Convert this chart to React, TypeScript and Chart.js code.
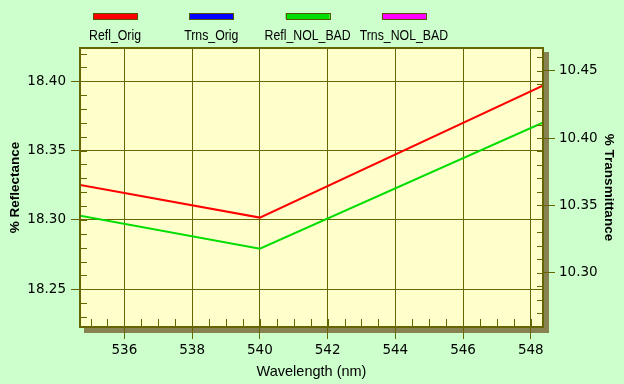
import { useEffect, useRef } from 'react';
import { Chart, registerables } from 'chart.js';

Chart.register(...registerables);

// ---- data ----
const wavelengths = [530, 540, 550];
const reflOrig = [18.346, 18.3017, 18.4156];
const trnsOrig: number[] = [];
const reflNolBad = [18.3242, 18.2793, 18.3881];
const trnsNolBad: number[] = [];
const seriesLabels = ['Refl_Orig', 'Trns_Orig', 'Refl_NOL_BAD', 'Trns_NOL_BAD'];
const seriesColors = ['#ff0000', '#0000ff', '#00dd00', '#ff00ff'];

const xTickValues = [536, 538, 540, 542, 544, 546, 548];
const leftTickValues = [18.25, 18.3, 18.35, 18.4];
const rightTickValues = [10.3, 10.35, 10.4, 10.45];
const xRange = [534.66, 548.39];
const leftRange = [18.2221, 18.4247];
const rightRange = [10.2589, 10.4676];
const xMinorStep = 0.5;
const leftMinorStep = 0.01;
const rightMinorStep = 0.01;

// ---- style ----
const PAGE_BG = '#ccffcc';
const PLOT_BG = '#ffffcc';
const SHADOW = '#888250';
const OLIVE = '#666600';
const TICK_FONT = { family: 'DejaVu Sans', size: 13.5 };
const TITLE_FONT = { family: 'Liberation Sans', size: 13.5, weight: 'bold' as const };

const toPts = (ys: number[]) => ys.map((y, i) => ({ x: wavelengths[i], y }));

function minorValues(min: number, max: number, step: number) {
  const out: number[] = [];
  const start = Math.ceil(min / step - 1e-9);
  for (let k = start; k * step <= max + 1e-9; k++) out.push(k * step);
  return out;
}

const decor = {
  id: 'decor',
  beforeDraw(chart: any) {
    const { ctx, chartArea: a, width, height } = chart;
    ctx.save();
    ctx.fillStyle = PAGE_BG;
    ctx.fillRect(0, 0, width, height);
    ctx.fillStyle = SHADOW;
    ctx.fillRect(a.left + 5, a.top + 5, a.right - a.left, a.bottom - a.top);
    ctx.fillStyle = PLOT_BG;
    ctx.fillRect(a.left, a.top, a.right - a.left, a.bottom - a.top);
    ctx.restore();
  },
  afterDraw(chart: any) {
    const { ctx, chartArea: a, scales } = chart;
    ctx.save();
    ctx.strokeStyle = OLIVE;
    ctx.lineWidth = 1;
    ctx.beginPath();
    for (const v of minorValues(xRange[0], xRange[1], xMinorStep)) {
      const px = Math.round(scales.x.getPixelForValue(v)) + 0.5;
      ctx.moveTo(px, a.bottom);
      ctx.lineTo(px, a.bottom - 9);
    }
    for (const v of minorValues(leftRange[0], leftRange[1], leftMinorStep)) {
      const py = Math.round(scales.y.getPixelForValue(v)) + 0.5;
      ctx.moveTo(a.left, py);
      ctx.lineTo(a.left + 8, py);
    }
    for (const v of minorValues(rightRange[0], rightRange[1], rightMinorStep)) {
      const py = Math.round(scales.y1.getPixelForValue(v)) + 0.5;
      ctx.moveTo(a.right, py);
      ctx.lineTo(a.right - 7, py);
    }
    ctx.stroke();
    ctx.lineWidth = 2;
    ctx.strokeRect(a.left + 1, a.top + 1, a.right - a.left - 2, a.bottom - a.top - 2);

    // legend: swatch above a narrow label
    ctx.lineWidth = 1;
    const datasets = chart.data.datasets;
    datasets.forEach((ds: any, i: number) => {
      const cx = 115 + i * 96.3;
      ctx.fillStyle = ds.borderColor;
      ctx.fillRect(cx - 22, 13, 44, 6);
      ctx.strokeStyle = '#555500';
      ctx.strokeRect(Math.round(cx - 22) + 0.5, 13.5, 44, 6);
      ctx.save();
      ctx.translate(cx, 40);
      ctx.scale(0.82, 1);
      ctx.font = '15px "Liberation Sans", sans-serif';
      ctx.textAlign = 'center';
      ctx.textBaseline = 'alphabetic';
      ctx.fillStyle = '#000000';
      ctx.fillText(ds.label, 0, 0);
      ctx.restore();
    });
    ctx.restore();
  },
};

export default function App() {
  const ref = useRef<HTMLCanvasElement>(null);
  useEffect(() => {
    document.body.style.margin = '0';
    const series = [reflOrig, trnsOrig, reflNolBad, trnsNolBad];
    const chart = new Chart(ref.current!, {
      type: 'line',
      data: {
        datasets: series.map((s, i) => ({
          label: seriesLabels[i],
          data: toPts(s),
          borderColor: seriesColors[i],
          backgroundColor: seriesColors[i],
          borderWidth: 2,
          pointRadius: 0,
          tension: 0,
          clip: 0,
          yAxisID: i % 2 === 0 ? 'y' : 'y1',
        })),
      },
      options: {
        animation: false,
        responsive: false,
        devicePixelRatio: 1,
        layout: { padding: { top: 47, left: 0, right: 0, bottom: 0 } },
        plugins: { legend: { display: false }, tooltip: { enabled: false } },
        scales: {
          x: {
            type: 'linear',
            position: 'bottom',
            min: xRange[0],
            max: xRange[1],
            afterBuildTicks: (s: any) => { s.ticks = xTickValues.map((value) => ({ value })); },
            afterFit: (s: any) => { s.height = 56; },
            ticks: { font: TICK_FONT, color: '#000', padding: 3, maxRotation: 0, callback: (v: any) => String(v) },
            grid: { color: OLIVE, tickLength: 11, lineWidth: 1 },
            border: { display: false },
            title: { display: true, text: 'Wavelength (nm)', color: '#000', font: { family: 'Liberation Sans', size: 14.5 }, padding: { top: 0, bottom: 3 } },
          },
          y: {
            type: 'linear',
            position: 'left',
            min: leftRange[0],
            max: leftRange[1],
            afterBuildTicks: (s: any) => { s.ticks = leftTickValues.map((value) => ({ value })); },
            afterFit: (s: any) => { s.width = 79; },
            ticks: { font: TICK_FONT, color: '#000', padding: 5, callback: (v: any) => Number(v).toFixed(2) },
            grid: { color: OLIVE, tickLength: 8, lineWidth: 1 },
            border: { display: false },
            title: { display: true, text: '% Reflectance', color: '#000', font: TITLE_FONT, padding: { top: 7, bottom: 0 } },
          },
          y1: {
            type: 'linear',
            position: 'right',
            min: rightRange[0],
            max: rightRange[1],
            afterBuildTicks: (s: any) => { s.ticks = rightTickValues.map((value) => ({ value })); },
            afterFit: (s: any) => { s.width = 80; },
            ticks: { font: TICK_FONT, color: '#000', padding: 4, callback: (v: any) => Number(v).toFixed(2) },
            grid: { color: OLIVE, tickLength: 11, lineWidth: 1, drawOnChartArea: false },
            border: { display: false },
            title: { display: true, text: '% Transmittance', color: '#000', font: TITLE_FONT, padding: { top: 7, bottom: 0 } },
          },
        },
      },
      plugins: [decor],
    } as any);
    return () => chart.destroy();
  }, []);
  return (
    <div style={{ width: 624, height: 384, background: PAGE_BG }}>
      <canvas ref={ref} width={624} height={384} style={{ display: 'block', width: 624, height: 384 }} />
    </div>
  );
}
